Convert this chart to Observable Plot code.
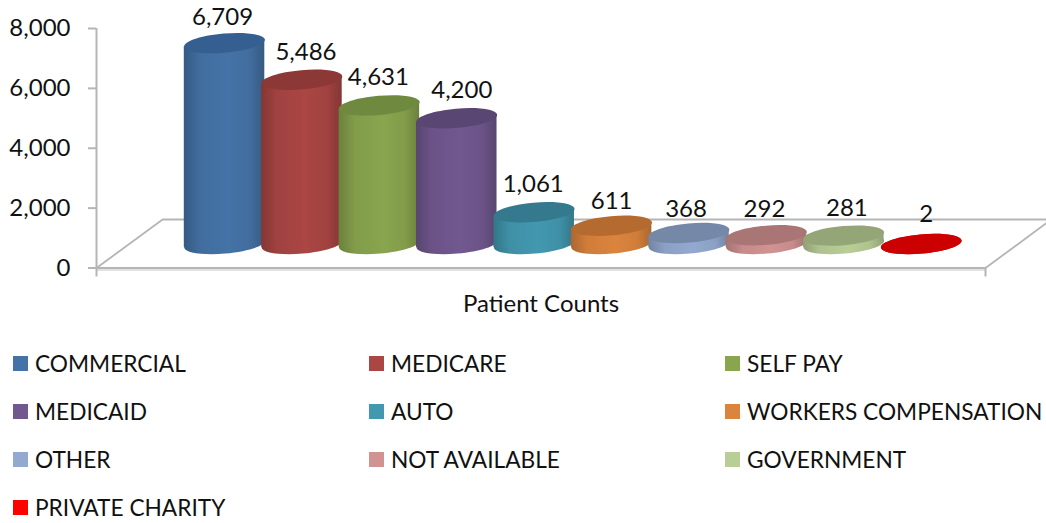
<!DOCTYPE html>
<html>
<head>
<meta charset="utf-8">
<script src="https://cdn.jsdelivr.net/npm/d3@7"></script>
<script src="https://cdn.jsdelivr.net/npm/@observablehq/plot@0.6"></script>
<style>
html,body{margin:0;padding:0;background:#fff;width:1046px;height:523px;overflow:hidden}
svg{display:block}
#legend{display:grid;grid-template-columns:356px 356px 334px;grid-auto-rows:48px;padding-left:13px;box-sizing:border-box;width:1046px;
 font-family:Lato,Carlito,sans-serif;font-size:22.7px;color:#111}
#legend div{display:flex;align-items:center;white-space:nowrap}
#legend i{display:inline-block;width:15px;height:15px;margin-right:7px;flex:none}
</style>
</head>
<body>
<div id="chart"></div>
<div id="legend"></div>
<script>
const categories = ["COMMERCIAL","MEDICARE","SELF PAY","MEDICAID","AUTO","WORKERS COMPENSATION","OTHER","NOT AVAILABLE","GOVERNMENT","PRIVATE CHARITY"];
const values = [6709,5486,4631,4200,1061,611,368,292,281,2];
const sideColors = ["#4573a7","#aa4644","#89a54e","#71588f","#4298af","#db843d","#93a9cf","#d19392","#b9cd96","#ff0000"];
const topColors = ["#355f91","#8c3836","#6f8a3e","#5a4672","#34798d","#b56b30","#7688a8","#a97675","#94a578","#cc0000"];
const yTicks = [0,2000,4000,6000,8000];
const floorBackIndex = [-0.80,10.68];
const floorBackValue = 1620;
const axisTitle = "Patient Counts";

const xDomain = [-1.654,9.83];
const yPx = (267.5-28)/8000;
const baseDy = -24;
const tiltDeg = -5, rx = 40.5, ry = 9.6;
const tilt = rx*Math.sin(-tiltDeg*Math.PI/180)/yPx;
const half = 0.52;
// small per-label placement nudges (pixels), in the order of categories
const nudgeX = [-2,4,-1,5,-1,0,-3,-2,3,5];
const nudgeY = [0,-1,-2,-2,-2,2,2,0,-1,-4];

const ellipse = {draw(c){
  const k=0.5523;
  c.moveTo(-rx,0);
  c.bezierCurveTo(-rx,-k*ry,-k*rx,-ry,0,-ry);
  c.bezierCurveTo(k*rx,-ry,rx,-k*ry,rx,0);
  c.bezierCurveTo(rx,k*ry,k*rx,ry,0,ry);
  c.bezierCurveTo(-k*rx,ry,-rx,k*ry,-rx,0);
  c.closePath();
}};

const cylinders = categories.flatMap((name,i)=>{
  const v = values[i], fill = `url(#side${i})`;
  const body = [
    {x:i-half,y1:-tilt,y2:v-tilt},
    {x:i+half,y1:tilt,y2:v+tilt}
  ];
  return [
    Plot.dot([{x:i,y:0}],{x:"x",y:"y",symbol:ellipse,fill,stroke:"none",rotate:tiltDeg,dy:baseDy}),
    Plot.areaY(body,{x:"x",y1:"y1",y2:"y2",fill,dy:baseDy}),
    Plot.dot([{x:i,y:v}],{x:"x",y:"y",symbol:ellipse,fill:topColors[i],stroke:"none",rotate:tiltDeg,dy:baseDy})
  ];
});
const labels = categories.map((name,i)=>
  Plot.text([{x:i,y:values[i],t:d3.format(",")(values[i])}],
    {x:"x",y:"y",text:"t",dx:nudgeX[i],dy:-50+nudgeY[i],fontSize:24,fill:"#111"}));

const floorColor = "#b5b5b5";
const chart = Plot.plot({
  width:1046,height:339,
  marginLeft:96,marginRight:61,marginTop:28,marginBottom:35,
  style:{fontFamily:"Lato,Carlito,sans-serif",background:"#fff",overflow:"hidden"},
  x:{type:"linear",domain:xDomain,axis:null},
  y:{type:"linear",domain:[0,8000],range:[267.5,28],axis:null},
  marks:[
    Plot.line([{x:xDomain[0],y:0},{x:floorBackIndex[0],y:floorBackValue},{x:floorBackIndex[1],y:floorBackValue},{x:xDomain[1],y:0}],
      {x:"x",y:"y",stroke:floorColor,strokeWidth:1.8,fill:"none"}),
    Plot.ruleY([0],{x1:xDomain[0],x2:xDomain[1],stroke:"#e2e2e2",strokeWidth:2,dy:2}),
    Plot.ruleY([0],{x1:xDomain[0],x2:xDomain[1],stroke:floorColor,strokeWidth:2}),
    Plot.ruleX([xDomain[0]],{y1:-300,y2:8000,stroke:floorColor,strokeWidth:2}),
    Plot.ruleX([xDomain[1]],{y1:-300,y2:0,stroke:floorColor,strokeWidth:2}),
    Plot.axisY({ticks:yTicks,tickFormat:d=>d3.format(",")(d),anchor:"left",tickSize:8,tickPadding:18,stroke:floorColor,strokeWidth:2,
      label:null,fontSize:24,fill:"#111"}),
    ...cylinders,
    ...labels,
    Plot.text([axisTitle],{frameAnchor:"bottom",x:()=>(xDomain[0]+xDomain[1])/2,text:d=>d,fontSize:24,lineAnchor:"middle",fill:"#111"})
  ]
});

const svg = d3.select(chart.tagName==="svg"?chart:chart.querySelector("svg"));
const defs = svg.insert("defs",":first-child");
sideColors.forEach((c,i)=>{
  const g = defs.append("linearGradient").attr("id",`side${i}`).attr("x1",0).attr("x2",1).attr("y1",0).attr("y2",0);
  const dark = d3.color(c).darker(0.7).formatHex();
  const mid = d3.color(c).darker(0.15).formatHex();
  [[0,dark],[0.2,mid],[0.55,c],[0.82,mid],[1,dark]].forEach(([o,col])=>g.append("stop").attr("offset",o).attr("stop-color",col));
});
document.getElementById("chart").appendChild(chart);

const legend = d3.select("#legend");
categories.forEach((c,i)=>{
  const row = legend.append("div");
  row.append("i").style("background",sideColors[i]);
  row.append("span").text(c);
});
</script>
</body>
</html>
